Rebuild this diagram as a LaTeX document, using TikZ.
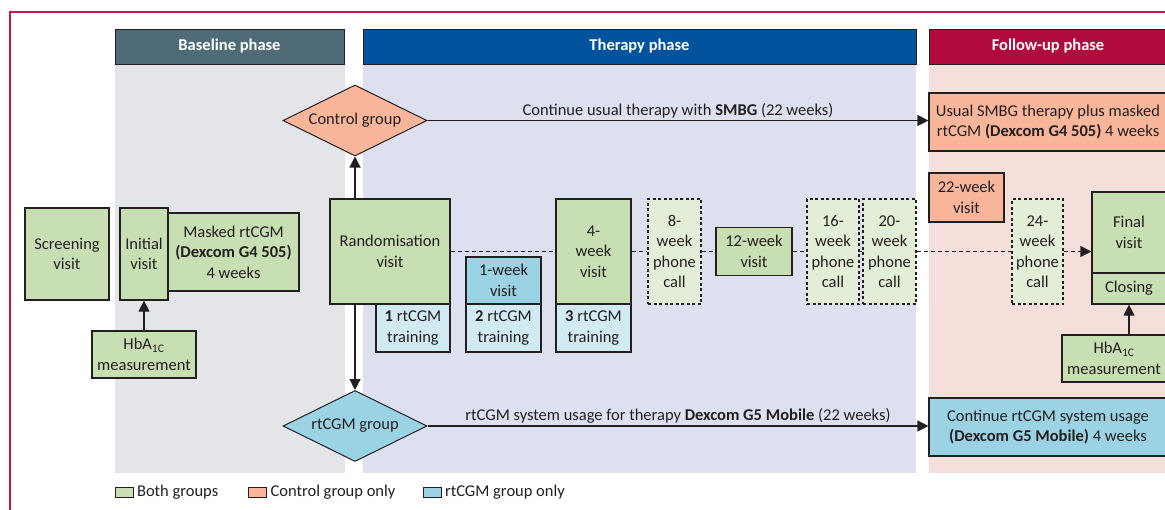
\documentclass[tikz,border=0pt]{standalone}
\usepackage{fontspec}
\setmainfont{Carlito}
\usetikzlibrary{shapes.geometric,arrows.meta,positioning}
\definecolor{ink}{HTML}{231F20}
\definecolor{both}{HTML}{C8DFB3}
\definecolor{ctrl}{HTML}{F9B69B}
\definecolor{cgm}{HTML}{9BD3E4}
\definecolor{cgmlight}{HTML}{D2EBF2}
\definecolor{phone}{HTML}{E3EED8}
\definecolor{basegray}{HTML}{E4E5E8}
\definecolor{therapybg}{HTML}{DDE0EF}
\definecolor{followbg}{HTML}{F5DFDB}
\definecolor{basehead}{HTML}{4F6B78}
\definecolor{therapyhead}{HTML}{00539C}
\definecolor{followhead}{HTML}{B10A3C}
\definecolor{frameline}{HTML}{C4164C}

\begin{document}
\begin{tikzpicture}[x=1pt,y=-1pt,
    every node/.style={text=ink,font=\fontsize{16.5}{20.5}\selectfont},
    box/.style={draw=ink,line width=1.2pt,rectangle,inner sep=0pt,align=center},
    callbox/.style={box,fill=phone,line width=1.1pt,dash pattern=on 3pt off 2.5pt,minimum width=53,minimum height=105},
    group/.style={draw=ink,line width=1pt,diamond,aspect=2,inner sep=0pt,minimum width=144,minimum height=71},
    phase/.style={draw=ink,line width=1pt,inner sep=0pt,minimum height=35,text=white,font=\fontsize{16.5}{20.5}\selectfont\bfseries},
    legendbox/.style={draw=ink,line width=1pt,inner sep=0pt,minimum width=18,minimum height=10},
    link/.style={draw=ink,line width=1.2pt},
    dashlink/.style={link,dash pattern=on 4pt off 3pt},
    >={Triangle[length=11pt,width=11pt]}]
        \useasboundingbox(0,0)rectangle(1165,509);
        \clip(0,0)rectangle(1165,509);
        \fill[white](0,0)rectangle(1165,509);
        % phase panels
        \fill[basegray](115,64)rectangle(345,473);
        \fill[therapybg](363,64)rectangle(916,473);
        \fill[followbg](929,64)rectangle(1180,473);
        \draw[frameline,line width=1.2pt](1180,12)--(10,12)--(10,520);
        \node(baseline)at(229.5,46.5)[phase,fill=basehead,minimum width=229]{Baseline phase};
        \node(therapy)at(639.5,46.5)[phase,fill=therapyhead,minimum width=553]{Therapy phase};
        \node(followup)at(1048,46.5)[phase,fill=followhead,minimum width=238]{Follow-up phase};
        % baseline
        \node(screening)at(67,254)[box,fill=both,minimum width=84,minimum height=92]{Screening\\visit};
        \node(initial)at(144,254)[box,fill=both,minimum width=48,minimum height=92]{Initial\\visit};
        \node(masked)at(233.5,252)[box,fill=both,minimum width=131,minimum height=78]{Masked rtCGM\\\textbf{(Dexcom G4 505)}\\4 weeks};
        \node(hbastart)at(144,354.5)[box,fill=both,minimum width=104,minimum height=47]{HbA\textsubscript{1C}\\measurement};
        \node(control)at(355,120.5)[group,fill=ctrl]{Control group};
        \node(rtcgm)at(355,426)[group,fill=cgm]{rtCGM group};
        % therapy
        \node(random)at(390,251.5)[box,fill=both,minimum width=120,minimum height=105]{Randomisation\\visit};
        \node(trainone)at(413,328)[box,fill=cgmlight,minimum width=74,minimum height=48]{\textbf{1} rtCGM\\training};
        \node(weekone)at(503.5,280.5)[box,fill=cgm,minimum width=75,minimum height=47]{1-week\\visit};
        \node(traintwo)at(503.5,328)[box,fill=cgmlight,minimum width=75,minimum height=48]{\textbf{2} rtCGM\\training};
        \node(weekfour)at(593.5,251.5)[box,fill=both,minimum width=75,minimum height=105]{4-\\week\\visit};
        \node(trainthree)at(593.5,328)[box,fill=cgmlight,minimum width=75,minimum height=48]{\textbf{3} rtCGM\\training};
        \node(weekeight)at(674.5,251.5)[callbox]{8-\\week\\phone\\call};
        \node(weektwelve)at(754,251.5)[box,fill=both,minimum width=76,minimum height=48]{12-week\\visit};
        \node(weeksixteen)at(833,251.5)[callbox,minimum width=52]{16-\\week\\phone\\call};
        \node(weektwenty)at(889.5,251.5)[callbox]{20-\\week\\phone\\call};
        % follow-up
        \node(weektwentytwo)at(966.5,197.5)[box,fill=ctrl,minimum width=75,minimum height=49]{22-week\\visit};
        \node(weektwentyfour)at(1037.5,251.5)[callbox,minimum width=51]{24-\\week\\phone\\call};
        \node(final)at(1129,232.5)[box,fill=both,minimum width=74,minimum height=81]{Final\\visit};
        \node(closing)at(1129,288.5)[box,fill=both,minimum width=74,minimum height=31]{Closing};
        \node(hbaend)at(1114,358.5)[box,fill=both,minimum width=104,minimum height=47]{HbA\textsubscript{1C}\\measurement};
        \node(usual)at(1048,122)[box,fill=ctrl,minimum width=238,minimum height=58]{Usual SMBG therapy plus masked\\rtCGM \textbf{(Dexcom G4 505)} 4 weeks};
        \node(continue)at(1048,427)[box,fill=cgm,minimum width=238,minimum height=58]{Continue rtCGM system usage\\\textbf{(Dexcom G5 Mobile)} 4 weeks};
        % connectors
        \draw[link,->](hbastart)--(initial);
        \draw[link,->](random.north-|control)--(control);
        \draw[link,->](random.south-|rtcgm)--(rtcgm);
        \draw[link,->](control)--(control-|usual.west)node(ctrltext)[midway,above=0pt,inner sep=2pt]{Continue usual therapy with \textbf{SMBG} (22 weeks)};
        \draw[link,->](rtcgm)--(rtcgm-|continue.west)node(cgmtext)[midway,above=0pt,inner sep=2pt]{rtCGM system usage for therapy \textbf{Dexcom G5 Mobile} (22 weeks)};
        \draw[dashlink](random)--(weekfour);
        \draw[dashlink](weekfour)--(weekeight);
        \draw[dashlink](weekeight)--(weektwelve);
        \draw[dashlink](weektwelve)--(weeksixteen);
        \draw[dashlink](weeksixteen)--(weektwenty);
        \draw[dashlink](weektwenty)--(weektwentyfour);
        \draw[dashlink,->](weektwentyfour)--(weektwentyfour-|final.west);
        \draw[link,->](hbaend.north-|closing)--(closing.south);
        % legend
        \node(keyboth)at(124,492.5)[legendbox,fill=both]{};
        \node(keybothtext)[right=0pt of keyboth]{Both groups};
        \node(keyctrl)at(257.5,492.5)[legendbox,fill=ctrl]{};
        \node(keyctrltext)[right=0pt of keyctrl]{Control group only};
        \node(keycgm)at(432,492.5)[legendbox,fill=cgm]{};
        \node(keycgmtext)[right=0pt of keycgm]{rtCGM group only};
    \end{tikzpicture}
\end{document}
